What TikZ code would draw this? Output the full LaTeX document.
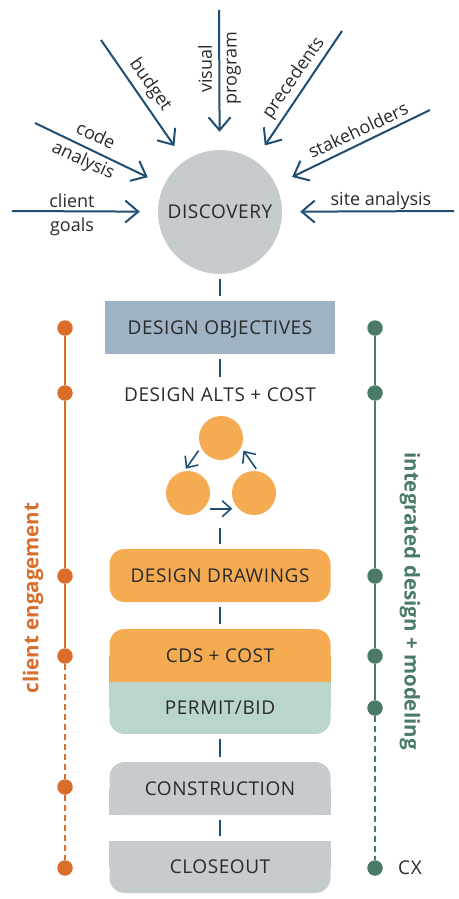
\documentclass[tikz,border=0pt]{standalone}
\usepackage{fontspec}
\setmainfont{Open Sans}
\newfontfamily\capfont[LetterSpace=3]{Open Sans}
\usetikzlibrary{arrows.meta,backgrounds}

\definecolor{navy}{HTML}{1F4E73}
\definecolor{ink}{HTML}{2A2A2A}
\definecolor{stone}{HTML}{C6CBCE}
\definecolor{slate}{HTML}{9FB3C5}
\definecolor{apricot}{HTML}{F5AB52}
\definecolor{sage}{HTML}{BAD6CA}
\definecolor{rust}{HTML}{D86E29}
\definecolor{pine}{HTML}{4A7B67}

\begin{document}
\begin{tikzpicture}[x=1pt,y=-1pt,
        >={Straight Barb[length=13pt,width=22pt]},
        feed/.style={->,draw=navy,line width=2pt,shorten >=18pt},
        spin/.style={draw=navy,line width=1.6pt,-{Straight Barb[length=9pt,width=16pt]}},
        lbl/.style={text=ink,inner sep=0pt,font=\fontsize{18}{20}\selectfont},
        caps/.style={text=ink,inner sep=0pt,font=\capfont\fontsize{19}{22}\selectfont},
        stage/.style={caps,minimum width=221pt,minimum height=53pt,text height=13.6pt,text depth=0pt,rounded corners=15pt},
        bead/.style={circle,inner sep=0pt,minimum size=15.5pt},
        alt/.style={circle,inner sep=0pt,minimum size=44pt,fill=apricot},
        link/.style={draw=navy,line width=2.4pt,shorten <=4.5pt},
        track/.style={line width=1.6pt},
        side/.style={inner sep=0pt,font=\fontsize{20.5}{24}\selectfont\bfseries}]
    \useasboundingbox (0,0) rectangle (458,899);

    % discovery and what feeds into it
    \node[circle,fill=stone,minimum size=124pt,caps] (disc) at (220,212) {DISCOVERY};
    \foreach \n/\x/\y in {goals/12/211,code/35/123,budget/101/40,prog/219/10,prec/342/31,stake/430/110,site/454/211}
        \coordinate (\n) at (\x,\y);
    \foreach \n in {goals,code,budget,prog,prec,stake,site}
        \draw[feed] (\n) -- (disc);
    \node[lbl] (lclient) at (72,201) {client};
    \node[lbl] (lgoals) at (72,227) {goals};
    \node[lbl,rotate=-25] (lcode) at (96,135) {code};
    \node[lbl,rotate=-25] (lanal) at (83,161) {analysis};
    \node[lbl,rotate=-55] (lbudget) at (150,85) {budget};
    \node[lbl,rotate=90] (lvisual) at (205,69) {visual};
    \node[lbl,rotate=90] (lprog) at (234,68) {program};
    \node[lbl,rotate=55] (lprec) at (294,78) {precedents};
    \node[lbl,rotate=25] (lstake) at (358,130) {stakeholders};
    \node[lbl] (lsite) at (381,201) {site analysis};

    % objectives and the alternatives loop
    \node[caps,fill=slate,minimum width=230pt,minimum height=53pt,text height=13.6pt,text depth=0pt] (obj) at (220,327.5) {DESIGN OBJECTIVES};
    \node[caps] (alts) at (220,395) {DESIGN ALTS + COST};
    \node[alt] (c1) at (221,438) {};
    \node[alt] (c2) at (188,493) {};
    \node[alt] (c3) at (254,493) {};
    \draw[spin,shorten <=4pt,shorten >=3pt] (c1.205) -- (c2.100);
    \draw[spin,shorten <=6pt,shorten >=6pt] (c2.-45) -- (c3.225);
    \draw[spin,shorten <=3pt,shorten >=4pt] (c3.80) -- (c1.-25);
    \coordinate (cyc) at (220,523);

    % delivery stages
    \node[stage,fill=apricot] (drw) at (220,575.5) {DESIGN DRAWINGS};
    \node[stage,fill=apricot] (cds) at (220,655.5) {CDS + COST};
    \node[stage,fill=sage,minimum height=52pt] (pmt) at (220,708) {PERMIT/BID};
    \node[stage,fill=stone] (con) at (220,788.5) {CONSTRUCTION};
    \node[stage,fill=stone,minimum height=52pt] (clo) at (220,867) {CLOSEOUT};
    \begin{scope}[on background layer]
        \fill[apricot] (cds.west) rectangle (cds.south east);
        \fill[sage] (pmt.north west) rectangle (pmt.east);
        \fill[stone] (con.west) rectangle (con.south east);
        \fill[stone] (clo.north west) rectangle (clo.east);
    \end{scope}
    \foreach \a/\b/\e in {disc/obj/5pt,obj/alts/11pt,cyc/drw/5pt,drw/cds/5pt,pmt/con/5pt,con/clo/5pt}
        \draw[link,shorten >=\e] (\a) -- (\b);

    % side tracks
    \foreach \n/\y in {1/328,2/393,3/576,4/656,5/787,6/868}
        \node[bead,fill=rust] (e\n) at (65,\y) {};
    \foreach \n/\y in {1/328,2/393,3/576,4/656,5/708,6/868}
        \node[bead,fill=pine] (m\n) at (375,\y) {};
    \draw[track,rust] (e1) -- (e2) -- (e3) -- (e4);
    \draw[track,rust,dash pattern=on 6pt off 4pt] (e4) -- (e5) -- (e6);
    \draw[track,pine] (m1) -- (m2) -- (m3) -- (m4) -- (m5);
    \draw[track,pine,dash pattern=on 6pt off 4pt] (m5) -- (m6);
    \node[side,text=rust,rotate=90] (engage) at (33,598) {client engagement};
    \node[side,text=pine,rotate=-90] (integ) at (410,601) {integrated design + modeling};
    \node[caps] (cx) at (410,868) {CX};
\end{tikzpicture}
\end{document}
